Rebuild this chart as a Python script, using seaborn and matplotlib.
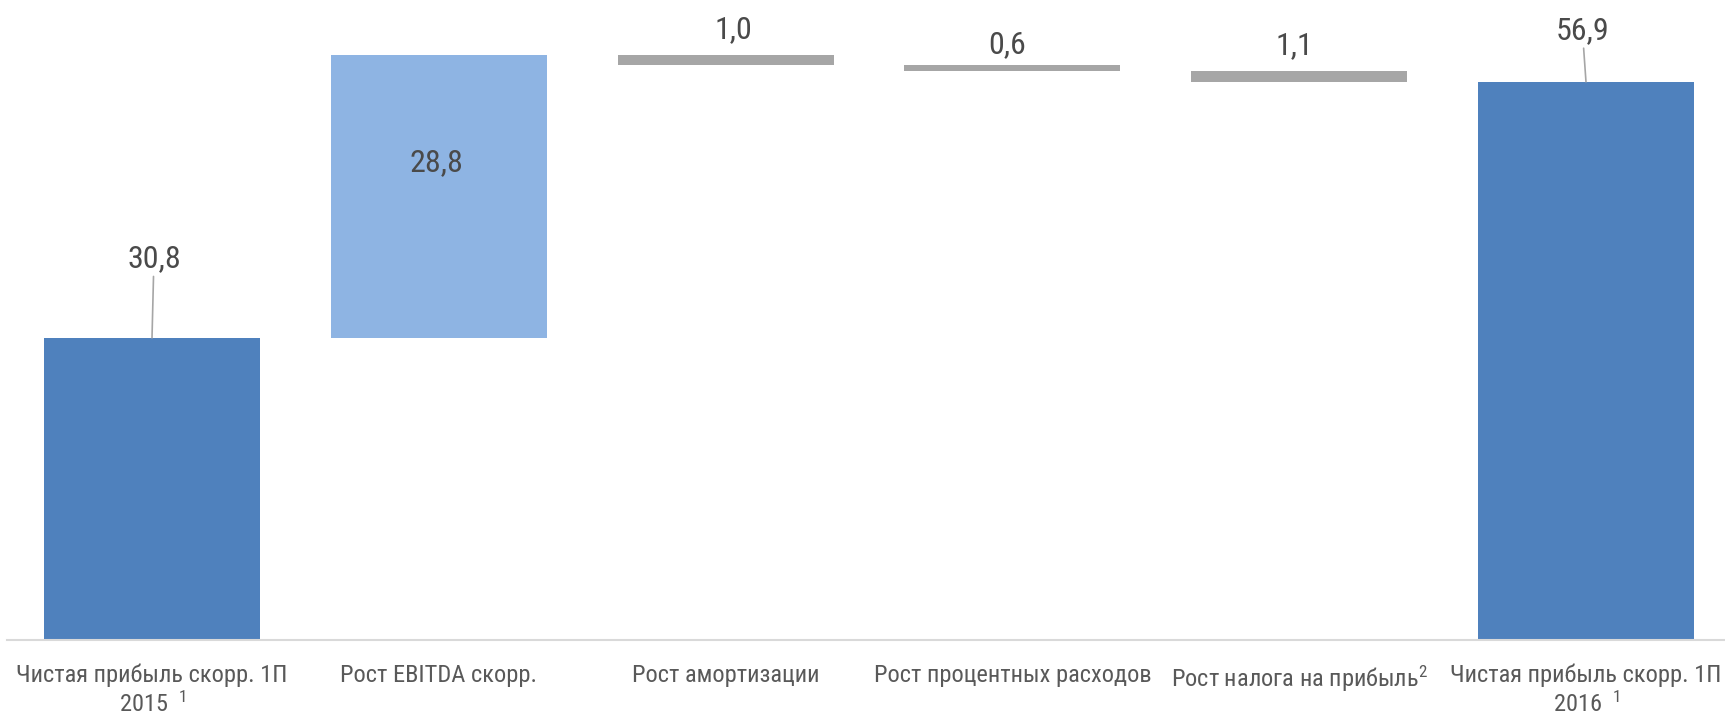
import os
import matplotlib
matplotlib.use("Agg")
import matplotlib.pyplot as plt
from matplotlib import font_manager as fm
import seaborn as sns
import pandas as pd

# ---- data ----
keys = ["np2015", "ebitda", "amort", "interest", "tax", "np2016"]
tick_labels = [
    "Чистая прибыль скорр. 1П\n2015  $^{\\mathrm{1}}$",
    "Рост EBITDA скорр.",
    "Рост амортизации",
    "Рост процентных расходов",
    "Рост налога на прибыль$^{\\mathrm{2}}$",
    "Чистая прибыль скорр. 1П\n2016  $^{\\mathrm{1}}$",
]
values = [30.8, 28.8, -1.0, -0.6, -1.1, 56.9]
kinds = ["total", "increase", "decrease", "decrease", "decrease", "total"]

# ---- style ----
kind_colors = {"total": "#4F81BD", "increase": "#8EB4E3", "decrease": "#A6A6A6"}
label_style = [
    ("leader", 1.4, 57.0),
    ("inside", -1.4, 24.5),
    ("above", 5.5, 12.2),
    ("above", -3.6, 8.6),
    ("above", -3.6, 12.2),
    ("leader", -2.6, 37.0),
]


def pick_condensed():
    cands = [("Liberation Sans Narrow", "normal"), ("Arial Narrow", "normal"),
             ("Roboto Condensed", "normal"), ("DejaVu Sans", "condensed"),
             ("Noto Sans", "condensed")]
    for fam, st in cands:
        try:
            p = fm.findfont(fm.FontProperties(family=fam, stretch=st),
                            fallback_to_default=False)
        except Exception:
            continue
        n = os.path.basename(p).lower()
        if "narrow" in n or "cond" in n:
            return fam, st
    return None


sns.set_theme(style="white")
cond = pick_condensed()
base_family = cond[0] if cond else "Liberation Sans"
plt.rcParams["font.family"] = [base_family, "Liberation Sans", "DejaVu Sans"]
if cond:
    plt.rcParams["font.stretch"] = cond[1]
plt.rcParams["mathtext.fontset"] = "custom"
plt.rcParams["mathtext.rm"] = base_family
plt.rcParams["mathtext.it"] = base_family
plt.rcParams["mathtext.bf"] = base_family

if cond:
    value_size, tick_size = 23, 17.6
else:
    value_size, tick_size = 20.5, 15.5

# waterfall geometry from values
bases, heights = [], []
running = 0.0
for v, k in zip(values, kinds):
    if k == "total":
        bases.append(0.0)
        heights.append(v)
        running = v
    elif v >= 0:
        bases.append(running)
        heights.append(v)
        running += v
    else:
        running += v
        bases.append(running)
        heights.append(-v)

df = pd.DataFrame({"cat": keys, "height": heights, "kind": kinds})
palette = {c: kind_colors[k] for c, k in zip(keys, kinds)}

fig = plt.figure(figsize=(17.25, 7.16), dpi=100)
ax = fig.add_axes([7 / 1725, 76 / 716, 1 - 7 / 1725, 640 / 716])

sns.barplot(data=df, x="cat", y="height", hue="cat", palette=palette,
            width=0.753, saturation=1, legend=False, ax=ax, linewidth=0)
for p, b in zip(ax.patches, bases):
    p.set_y(b)

ax.set_xlim(-0.5056, 5.4847)
ax.set_ylim(0, 65.24)

for s in ["top", "right", "left"]:
    ax.spines[s].set_visible(False)
ax.spines["bottom"].set_color("#D9D9D9")
ax.spines["bottom"].set_linewidth(1.5)
ax.set_yticks([])
ax.set_xlabel("")
ax.set_ylabel("")
ax.set_xticks(range(len(keys)))
ax.set_xticklabels(tick_labels, fontsize=tick_size, color="#595959", linespacing=1.22)
ax.tick_params(axis="x", length=0, pad=17)

value_color = "#4A4A4A"
for i, (v, b, h, st) in enumerate(zip(values, bases, heights, label_style)):
    mode, dx, dy = st
    txt = f"{abs(v):.1f}".replace(".", ",")
    top = b + h
    if mode == "leader":
        ax.annotate(txt, xy=(i, top), xytext=(dx, dy), textcoords="offset points",
                    ha="center", va="center", color=value_color, fontsize=value_size,
                    arrowprops=dict(arrowstyle="-", color="#A6A6A6", lw=1.2,
                                    shrinkA=0, shrinkB=0))
    elif mode == "inside":
        ax.annotate(txt, xy=(i, b + h / 2), xytext=(dx, dy), textcoords="offset points",
                    ha="center", va="center", color=value_color, fontsize=value_size)
    else:
        ax.annotate(txt, xy=(i, top), xytext=(dx, dy), textcoords="offset points",
                    ha="center", va="baseline", color=value_color, fontsize=value_size)

fig.savefig("out.png", dpi=100, facecolor="white")
